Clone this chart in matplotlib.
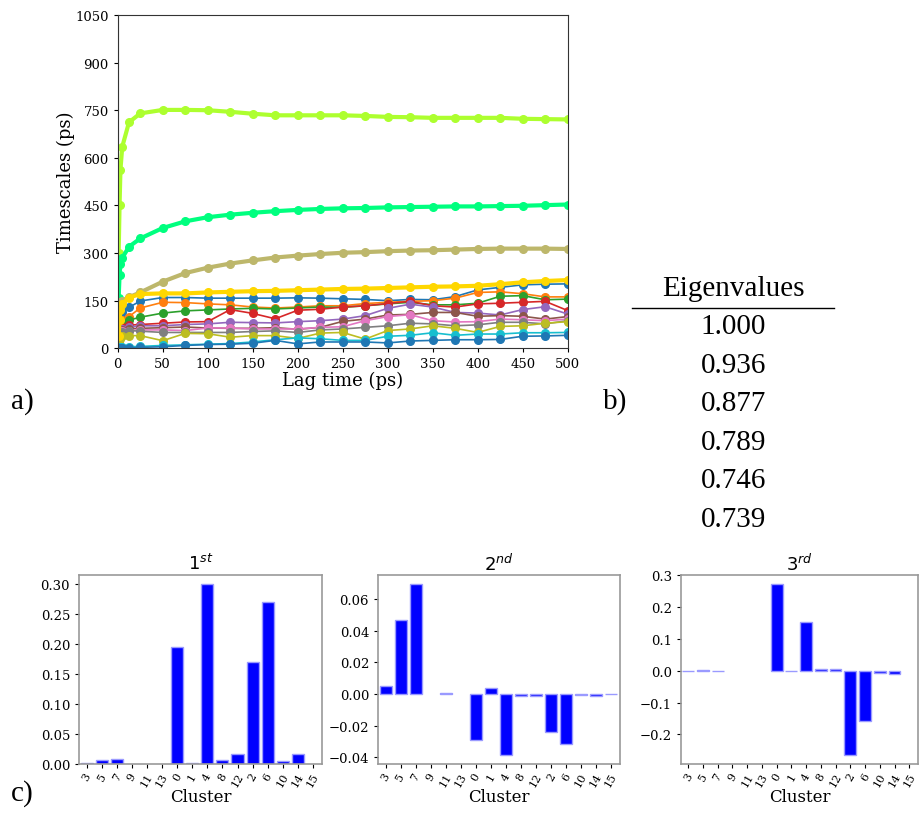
import matplotlib
matplotlib.use("Agg")
import matplotlib.pyplot as plt
import numpy as np

# lag times (ps) shared by every implied-timescale curve
lags = [1, 2, 3, 5, 12.5, 25, 50, 75, 100, 125, 150, 175, 200, 225, 250,
        275, 300, 325, 350, 375, 400, 425, 450, 475, 500]

# slow processes (thick lines)
ts_lime = [300, 450, 563, 635, 712, 740, 751, 751, 750, 745, 739, 734, 734,
           734, 734, 732, 729, 728, 726, 726, 726, 726, 723, 722, 721]
ts_spring = [160, 230, 265, 285, 320, 346, 379, 400, 413, 421, 427, 432, 436,
             439, 441, 442, 444, 445, 446, 447, 447, 448, 449, 451, 453]
ts_khaki = [130, 140, 145, 150, 161, 176, 210, 237, 254, 267, 277, 286, 292,
            297, 301, 303, 306, 308, 309, 311, 313, 314, 314, 314, 313]
ts_gold = [40, 90, 120, 140, 160, 171, 173, 173, 176, 178, 180, 181, 183,
           185, 187, 188, 190, 192, 194, 195, 197, 202, 208, 212, 215]
thick_series = [ts_lime, ts_spring, ts_khaki, ts_gold]
thick_colors = ["greenyellow", "springgreen", "darkkhaki", "gold"]

# faster processes (thin lines, default colour cycle)
ts_thin = [
    [60, 90, 105, 115, 129, 149, 160, 160, 158, 158, 158, 158, 159, 158, 156,
     154, 150, 154, 153, 163, 184, 192, 200, 202, 203],
    [50, 70, 80, 90, 100, 127, 145, 144, 140, 137, 130, 127, 130, 134, 134,
     141, 145, 148, 150, 158, 176, 178, 172, 162, 162],
    [45, 60, 70, 78, 89, 98, 111, 118, 121, 124, 126, 124, 127, 130, 129,
     134, 140, 145, 137, 137, 142, 164, 166, 153, 155],
    [40, 55, 62, 68, 73, 75, 79, 83, 84, 122, 110, 93, 120, 123, 130,
     134, 141, 148, 134, 130, 140, 142, 145, 148, 119],
    [35, 50, 56, 62, 66, 71, 71, 75, 77, 82, 81, 80, 84, 87, 92,
     103, 126, 139, 130, 113, 111, 105, 122, 131, 108],
    [30, 45, 52, 58, 61, 63, 65, 67, 64, 63, 63, 65, 60, 66, 85,
     92, 105, 107, 113, 113, 101, 103, 101, 92, 100],
    [28, 42, 48, 53, 56, 58, 58, 56, 64, 64, 61, 61, 61, 66, 68,
     87, 100, 106, 87, 83, 84, 92, 90, 87, 92],
    [25, 40, 46, 52, 56, 54, 50, 50, 50, 50, 53, 55, 50, 58, 61,
     66, 71, 79, 77, 71, 74, 82, 82, 77, 87],
    [20, 30, 35, 38, 40, 40, 24, 47, 46, 35, 40, 40, 31, 48, 50,
     29, 56, 61, 71, 63, 50, 69, 71, 79, 84],
    [2, 3, 4, 4, 5, 6, 9, 11, 13, 15, 20, 27, 33, 30, 25,
     25, 38, 41, 49, 41, 45, 45, 49, 49, 50],
    [0, 0, 0, 1, 1, 3, 5, 9, 12, 13, 16, 25, 14, 20, 20,
     20, 17, 23, 25, 27, 27, 28, 38, 39, 41],
]

eigenvalues = ["1.000", "0.936", "0.877", "0.789", "0.746", "0.739"]

clusters = ["3", "5", "7", "9", "11", "13", "0", "1", "4", "8", "12", "2",
            "6", "10", "14", "15"]
ev_1st = [0.001, 0.006, 0.008, 0.0, 0.0, 0.0, 0.195, 0.001, 0.300, 0.006,
          0.017, 0.170, 0.270, 0.005, 0.016, 0.0]
ev_2nd = [0.005, 0.047, 0.070, 0.0, 0.0007, 0.0, -0.029, 0.0035, -0.039,
          -0.001, -0.0015, -0.024, -0.032, -0.0005, -0.001, -0.0003]
ev_3rd = [0.0005, 0.002, -0.002, 0.0, 0.0, 0.0, 0.274, 0.001, 0.152, 0.007,
          0.005, -0.266, -0.159, -0.008, -0.009, 0.0]
bar_titles = ["1$^{st}$", "2$^{nd}$", "3$^{rd}$"]

fig = plt.figure(figsize=(9.2, 8.2), dpi=100)

# a) implied timescales
ax = fig.add_axes([0.128, 0.574, 0.489, 0.4065])
ax.axvline(0, color="gray", lw=1.5, zorder=0)
for vals in ts_thin:
    ax.plot(lags, vals, "-o", lw=1.2, ms=5.5)
for vals, c in zip(thick_series, thick_colors):
    ax.plot(lags, vals, "-o", lw=3, ms=5.5, color=c)
ax.set_xlim(0, 500)
ax.set_ylim(0, 1050)
ax.set_xticks(range(0, 501, 50))
ax.set_yticks(range(0, 1051, 150))
ax.tick_params(labelsize=9.5, length=3)
for lab in ax.get_xticklabels() + ax.get_yticklabels():
    lab.set_family("DejaVu Serif")
ax.set_xlabel("Lag time (ps)", family="DejaVu Serif", fontsize=13, labelpad=0)
ax.set_ylabel("Timescales (ps)", family="DejaVu Serif", fontsize=13, labelpad=0)
for sp in ax.spines.values():
    sp.set_color("#333333")

# panel labels
for txt, x, y in [("a)", 0.012, 0.502), ("b)", 0.655, 0.502), ("c)", 0.012, 0.024)]:
    fig.text(x, y, txt, family="Liberation Serif", fontsize=21)

# b) eigenvalue table
fig.text(0.797, 0.648, "Eigenvalues", family="Liberation Serif", fontsize=21,
         ha="center", va="center")
fig.add_artist(plt.Line2D([0.687, 0.907], [0.623, 0.623], color="black", lw=1))
for i, ev in enumerate(eigenvalues):
    fig.text(0.797, 0.601 - i * 0.047, ev, family="Liberation Serif",
             fontsize=21, ha="center", va="center")

# c) eigenvector components
bar_axes = [[0.086, 0.067, 0.264, 0.2305],
            [0.411, 0.067, 0.263, 0.2305],
            [0.740, 0.067, 0.258, 0.2305]]
for k, (rect, vals, title) in enumerate(zip(bar_axes, [ev_1st, ev_2nd, ev_3rd], bar_titles)):
    bx = fig.add_axes(rect)
    edge_w = [1 if v != 0 else 0 for v in vals]
    bx.bar(range(len(clusters)), vals, width=0.8, color="blue",
           edgecolor="#9a9aff", lw=edge_w)
    bx.set_xlim(-0.5, 15.6)
    bx.set_xticks(range(len(clusters)))
    bx.set_xticklabels(clusters, rotation=60, fontsize=8, family="DejaVu Serif")
    if k == 0:
        bx.set_yticks(np.arange(0, 0.31, 0.05))
        bx.set_yticklabels([f"{t:.2f}" for t in np.arange(0, 0.31, 0.05)])
    for lab in bx.get_yticklabels():
        lab.set_family("DejaVu Serif")
    bx.tick_params(axis="y", labelsize=9.5, length=3)
    bx.tick_params(axis="x", length=3, pad=2)
    bx.set_xlabel("Cluster", family="DejaVu Serif", fontsize=12, labelpad=0)
    bx.set_title(title, fontsize=13, pad=4)
    for sp in bx.spines.values():
        sp.set_color("#999999")
        sp.set_linewidth(1.2)

fig.savefig("out.png", dpi=100)
